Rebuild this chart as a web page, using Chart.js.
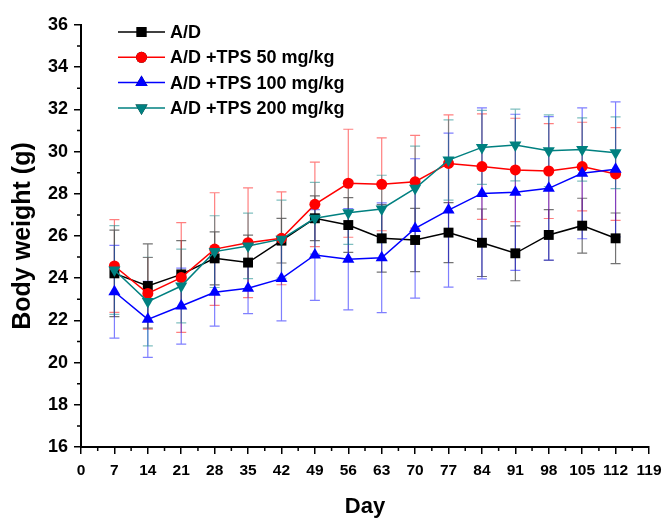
<!DOCTYPE html>
<html>
<head>
<meta charset="utf-8">
<script src="https://cdn.jsdelivr.net/npm/chart.js@4.4.1/dist/chart.umd.min.js"></script>
<style>
  html, body { margin: 0; padding: 0; background: #fff; }
  #wrap { width: 662px; height: 520px; }
</style>
</head>
<body>
<div id="wrap"><canvas id="grafica"></canvas></div>
<script>
//datos
var dias = [ 7, 14, 21, 28, 35, 42, 49, 56, 63, 70, 77, 84, 91, 98, 105, 112 ];

var ad      = [ 24.23, 23.63, 24.18, 24.94, 24.74, 25.78, 26.84, 26.52, 25.89, 25.81, 26.16, 25.68, 25.18, 26.05, 26.49, 25.89 ];
var adSd    = [ 2.05, 2.0, 1.6, 1.26, 1.3, 1.06, 1.06, 1.3, 1.6, 1.5, 1.42, 1.6, 1.3, 1.2, 1.3, 1.2 ];

var tps50   = [ 24.58, 23.28, 24.03, 25.38, 25.68, 25.89, 27.5, 28.5, 28.45, 28.57, 29.44, 29.29, 29.13, 29.08, 29.29, 28.94 ];
var tps50Sd = [ 2.2, 1.7, 2.6, 2.67, 2.6, 2.2, 2.0, 2.56, 2.2, 2.2, 2.3, 2.5, 2.45, 2.25, 2.1, 2.2 ];

var tps100   = [ 23.36, 22.05, 22.68, 23.33, 23.52, 23.98, 25.1, 24.9, 24.97, 26.36, 27.23, 28.02, 28.07, 28.26, 28.97, 29.16 ];
var tps100Sd = [ 2.2, 1.8, 1.8, 1.6, 1.2, 2.0, 2.15, 2.4, 2.6, 3.3, 3.65, 4.05, 3.7, 3.4, 3.1, 3.2 ];

var tps200   = [ 24.39, 22.89, 23.63, 25.26, 25.53, 25.85, 26.84, 27.1, 27.28, 28.26, 29.6, 30.2, 30.31, 30.04, 30.1, 29.95 ];
var tps200Sd = [ 2.1, 2.1, 1.75, 1.7, 1.55, 1.85, 1.7, 1.5, 1.6, 2.0, 1.9, 1.75, 1.7, 1.7, 1.5, 1.7 ];

var etiquetas = [ 'A/D', 'A/D +TPS 50 mg/kg', 'A/D +TPS 100 mg/kg', 'A/D +TPS 200 mg/kg' ];

function puntos( valores )
{
  return valores.map( ( v, i ) => ( { x: dias[ i ], y: v } ) );
}

var fuente = '"Liberation Sans", Arial, sans-serif';

function serie( label, valores, sd, color, barra, estilo, radio, rotacion, orden )
{
  return {
    label: label,
    data: puntos( valores ),
    sd: sd,
    barColor: barra,
    borderColor: color,
    backgroundColor: color,
    borderWidth: 1.5,
    pointStyle: estilo,
    pointRadius: radio,
    pointRotation: rotacion,
    pointBorderWidth: 0,
    pointBackgroundColor: color,
    order: orden,
    tension: 0,
  };
}

//barras de error
var errorBars =
{
  id: 'errorBars',
  beforeDatasetsDraw( chart )
  {
    var ctx = chart.ctx;
    var xs = chart.scales.x;
    var ys = chart.scales.y;
    ctx.save( );
    chart.data.datasets.forEach( ds =>
    {
      ctx.strokeStyle = ds.barColor;
      ctx.lineWidth = 1.2;
      ds.data.forEach( ( p, i ) =>
      {
        var px = xs.getPixelForValue( p.x );
        var top = ys.getPixelForValue( p.y + ds.sd[ i ] );
        var bot = ys.getPixelForValue( p.y - ds.sd[ i ] );
        ctx.beginPath( );
        ctx.moveTo( px, top ); ctx.lineTo( px, bot );
        ctx.moveTo( px - 5, top ); ctx.lineTo( px + 5, top );
        ctx.moveTo( px - 5, bot ); ctx.lineTo( px + 5, bot );
        ctx.stroke( );
      });
    });
    ctx.restore( );
  }
};

//ticks menores
var minorTicks =
{
  id: 'minorTicks',
  afterDraw( chart )
  {
    var ctx = chart.ctx;
    var xs = chart.scales.x;
    var ys = chart.scales.y;
    var area = chart.chartArea;
    ctx.save( );
    ctx.strokeStyle = '#000';
    ctx.lineWidth = 1.5;
    ctx.beginPath( );
    for ( var v = 3.5; v < xs.max; v += 7 )
    {
      var px = xs.getPixelForValue( v );
      ctx.moveTo( px, area.bottom ); ctx.lineTo( px, area.bottom + 4 );
    }
    for ( var w = ys.min + 1; w < ys.max; w += 2 )
    {
      var py = ys.getPixelForValue( w );
      ctx.moveTo( area.left, py ); ctx.lineTo( area.left - 4, py );
    }
    ctx.stroke( );
    ctx.restore( );
  }
};

//leyenda dentro del area
var leyenda =
{
  id: 'leyenda',
  afterDraw( chart )
  {
    var ctx = chart.ctx;
    var area = chart.chartArea;
    ctx.save( );
    ctx.font = 'bold 18px ' + fuente;
    ctx.textBaseline = 'middle';
    chart.data.datasets.forEach( ( ds, fila ) =>
    {
      var y = area.top + 7 + fila * 25.3;
      var x0 = area.left + 37;
      ctx.strokeStyle = ds.borderColor;
      ctx.lineWidth = 1.5;
      ctx.beginPath( );
      ctx.moveTo( x0, y ); ctx.lineTo( x0 + 47, y );
      ctx.stroke( );
      Chart.helpers.drawPoint( ctx, { pointStyle: ds.pointStyle, radius: ds.pointRadius, rotation: ds.pointRotation, borderWidth: 0 }, x0 + 23.5, y );
      ctx.fillStyle = ds.borderColor;
      ctx.fill( );
      ctx.fillStyle = '#000';
      ctx.fillText( ds.label, x0 + 52, y + 1 );
    });
    ctx.restore( );
  }
};

var datasets =
[
  serie( etiquetas[ 0 ], ad, adSd, '#000000', 'rgba(0,0,0,0.55)', 'rect', 7, 0, 3 ),
  serie( etiquetas[ 1 ], tps50, tps50Sd, '#ff0000', 'rgba(255,0,0,0.5)', 'circle', 5.5, 0, 2 ),
  serie( etiquetas[ 2 ], tps100, tps100Sd, '#0000ff', 'rgba(0,0,255,0.5)', 'triangle', 7, 0, 1 ),
  serie( etiquetas[ 3 ], tps200, tps200Sd, '#008080', 'rgba(0,128,128,0.5)', 'triangle', 7, 180, 0 ),
];

var grafica = new Chart( document.getElementById( 'grafica' ).getContext( '2d' ),
{
  type: 'line',
  data: { datasets: datasets },
  options:
  {
    responsive: true,
    maintainAspectRatio: false,
    animation: false,
    layout: { padding: { top: 25, right: 13, left: 0, bottom: 0 } },
    plugins:
    {
      legend: { display: false },
      tooltip: { enabled: false },
    },
    scales:
    {
      x:
      {
        type: 'linear',
        min: 0,
        max: 119,
        afterFit: s => { s.height = 73; s.paddingRight = 0; s.paddingLeft = 0; },
        ticks: { stepSize: 7, color: '#000', padding: 7, maxRotation: 0, autoSkip: false, font: { family: fuente, size: 15.5, weight: 'bold' } },
        grid: { drawOnChartArea: false, drawTicks: true, tickLength: 7, color: '#000', lineWidth: 1.5 },
        border: { display: true, color: '#000', width: 2 },
        title: { display: true, text: 'Day', color: '#000', align: 'center', padding: { top: 0, bottom: 0 }, font: { family: fuente, size: 22, weight: 'bold' } },
      },
      y:
      {
        min: 16,
        max: 36,
        afterFit: s => { s.width = 81; s.paddingTop = 0; s.paddingBottom = 0; },
        ticks: { stepSize: 2, color: '#000', padding: 6, font: { family: fuente, size: 18, weight: 'bold' } },
        grid: { drawOnChartArea: false, drawTicks: true, tickLength: 7, color: '#000', lineWidth: 1.5 },
        border: { display: true, color: '#000', width: 2 },
        title: { display: true, text: 'Body weight (g)', color: '#000', padding: { top: 8, bottom: 0 }, font: { family: fuente, size: 25, weight: 'bold' } },
      }
    }
  },
  plugins: [ errorBars, minorTicks, leyenda ]
});
</script>
</body>
</html>
